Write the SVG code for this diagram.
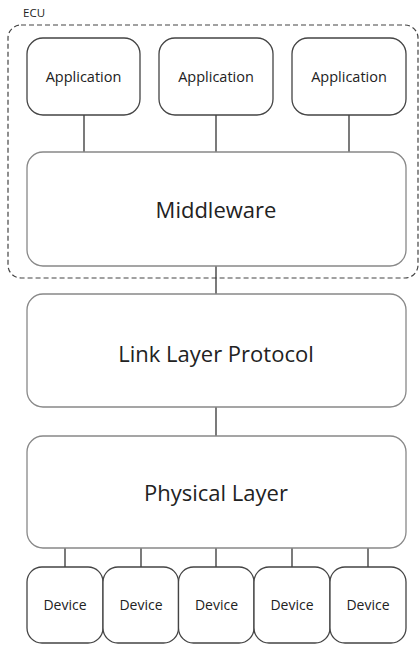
<svg xmlns="http://www.w3.org/2000/svg" width="420" height="645" viewBox="0 0 420 645">
<style>
.sm{fill:#fff;stroke:#444;stroke-width:1.3}
.lg{fill:#fff;stroke:#888;stroke-width:1.3}
.t{font-family:"Open Sans","DejaVu Sans",sans-serif;fill:#222;text-anchor:middle;dominant-baseline:central}
.ts{font-size:14.5px}
.tl{font-size:22px}
.td{font-size:14px}
.c{stroke:#333;stroke-width:1.3;fill:none}
</style>
<rect width="420" height="645" fill="#fff"/>
<g id="ecu">
<rect x="8" y="25" width="410" height="253" rx="13" fill="none" stroke="#444" stroke-width="1.2" stroke-dasharray="5,3"/>
<text x="23" y="12" class="t" style="text-anchor:start;font-size:11.5px">ECU</text>
</g>
<g id="connectors">
<line class="c" x1="84" y1="115" x2="84" y2="152"/>
<line class="c" x1="216" y1="115" x2="216" y2="152"/>
<line class="c" x1="349" y1="115" x2="349" y2="152"/>
<line class="c" x1="216" y1="266" x2="216" y2="294"/>
<line class="c" x1="216" y1="407" x2="216" y2="436"/>
<line class="c" x1="65" y1="548" x2="65" y2="567"/>
<line class="c" x1="141" y1="548" x2="141" y2="567"/>
<line class="c" x1="216" y1="548" x2="216" y2="567"/>
<line class="c" x1="292" y1="548" x2="292" y2="567"/>
<line class="c" x1="368" y1="548" x2="368" y2="567"/>
</g>
<g id="app1"><rect class="sm" x="27" y="38" width="113" height="77" rx="16"/><text class="t ts" x="83.5" y="76">Application</text></g>
<g id="app2"><rect class="sm" x="159" y="38" width="114" height="77" rx="16"/><text class="t ts" x="216" y="76">Application</text></g>
<g id="app3"><rect class="sm" x="292" y="38" width="114" height="77" rx="16"/><text class="t ts" x="349" y="76">Application</text></g>
<g id="middleware"><rect class="lg" x="27" y="152" width="379" height="114" rx="16"/><text class="t tl" x="216" y="209">Middleware</text></g>
<g id="link"><rect class="lg" x="27" y="294" width="379" height="113" rx="16"/><text class="t tl" x="216" y="353">Link Layer Protocol</text></g>
<g id="physical"><rect class="lg" x="27" y="436" width="379" height="112" rx="16"/><text class="t tl" x="216" y="492">Physical Layer</text></g>
<g id="dev1"><rect class="sm" x="27" y="567" width="76" height="76" rx="15"/><text class="t td" x="65" y="604">Device</text></g>
<g id="dev2"><rect class="sm" x="103" y="567" width="75.5" height="76" rx="15"/><text class="t td" x="141" y="604">Device</text></g>
<g id="dev3"><rect class="sm" x="178.5" y="567" width="75.5" height="76" rx="15"/><text class="t td" x="216.5" y="604">Device</text></g>
<g id="dev4"><rect class="sm" x="254" y="567" width="76" height="76" rx="15"/><text class="t td" x="292" y="604">Device</text></g>
<g id="dev5"><rect class="sm" x="330" y="567" width="76" height="76" rx="15"/><text class="t td" x="368" y="604">Device</text></g>
</svg>
